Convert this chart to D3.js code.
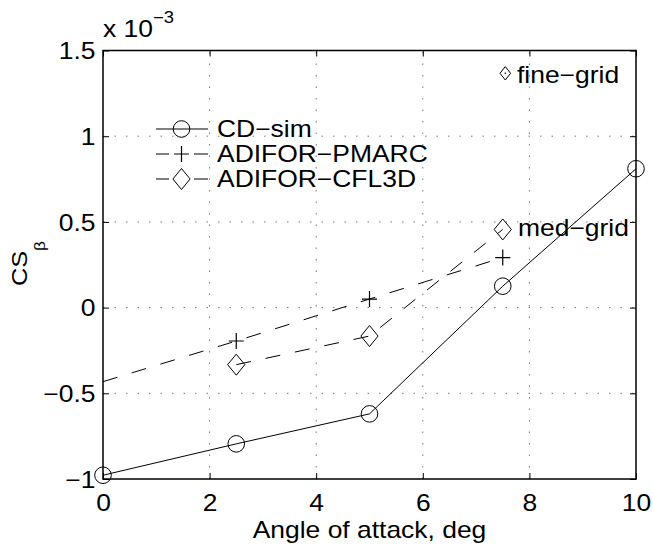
<!DOCTYPE html>
<html>
<head>
<meta charset="utf-8">
<script src="https://cdn.jsdelivr.net/npm/d3@7"></script>
<style>
  body { margin: 0; background: #fff; }
  svg { display: block; }
  text { font-family: "Liberation Sans", Arial, Helvetica, sans-serif; fill: #000; }
</style>
</head>
<body>
<svg id="chart" width="653" height="550"></svg>
<script>
// ---- data (values in units of 1e-3) ----
const cdAngles = [0, 2.5, 5, 7.5, 10];
const cdValues = [-0.978, -0.795, -0.620, 0.125, 0.810];

const pmarcAngles = [0, 2.5, 5, 7.5];
const pmarcValues = [-0.432, -0.195, 0.050, 0.292];
const pmarcMarkerAngles = [2.5, 5, 7.5];

const cfl3dAngles = [2.5, 5, 7.5];
const cfl3dValues = [-0.333, -0.166, 0.456];

const xTicks = [0, 2, 4, 6, 8, 10];
const yTicks = [-1, -0.5, 0, 0.5, 1, 1.5];
const yTickLabels = ["\u22121", "\u22120.5", "0", "0.5", "1", "1.5"];

const seriesNames = ["CD\u2212sim", "ADIFOR\u2212PMARC", "ADIFOR\u2212CFL3D"];
const noteLabels = ["fine\u2212grid", "med\u2212grid"];

// ---- layout ----
const svg = d3.select("#chart");
const L = 103, R = 636, T = 50.5, B = 479;
const x = d3.scaleLinear().domain([0, 10]).range([L, R]);
const y = d3.scaleLinear().domain([-1, 1.5]).range([B, T]);
const FS = 23, SX = 1.15;

// text helper: horizontally widened text placed at (tx, ty)
function addText(parent, tx, ty, str, size, anchor) {
  const g = parent.append("g").attr("transform", `translate(${tx},${ty}) scale(${SX},1)`);
  return g.append("text").attr("text-anchor", anchor || "start")
    .style("font-size", (size || FS) + "px").text(str);
}

// grid
const grid = svg.append("g").attr("stroke", "#777").attr("stroke-width", 1)
  .attr("stroke-dasharray", "1.5,10").attr("fill", "none");
xTicks.filter(t => t > 0 && t < 10).forEach(t => {
  grid.append("line").attr("x1", x(t)).attr("x2", x(t)).attr("y1", B).attr("y2", T);
});
yTicks.filter(t => t > -1 && t < 1.5).forEach(t => {
  grid.append("line").attr("x1", L).attr("x2", R).attr("y1", y(t)).attr("y2", y(t));
});

// axes (ticks inside, mirrored)
const tk = 6;
const axB = svg.append("g").attr("transform", `translate(0,${B})`)
  .call(d3.axisBottom(x).tickValues(xTicks).tickSize(-tk).tickPadding(16).tickFormat(d3.format("d")));
const axT = svg.append("g").attr("transform", `translate(0,${T})`)
  .call(d3.axisTop(x).tickValues(xTicks).tickSize(-tk).tickFormat(""));
const axL = svg.append("g").attr("transform", `translate(${L},0)`)
  .call(d3.axisLeft(y).tickValues(yTicks).tickSize(-tk).tickPadding(0)
    .tickFormat((d, i) => yTickLabels[i]));
const axR = svg.append("g").attr("transform", `translate(${R},0)`)
  .call(d3.axisRight(y).tickValues(yTicks).tickSize(-tk).tickFormat(""));
[axB, axT, axL, axR].forEach(a => {
  a.select(".domain").remove();
  a.selectAll(".tick line").attr("stroke", "#000").attr("stroke-width", 1);
  a.selectAll("text").style("font-size", FS + "px")
   .style("font-family", "'Liberation Sans', Arial, sans-serif").attr("fill", "#000")
   .attr("transform", `scale(${SX},1)`);
});
axB.selectAll("text").attr("dy", "0.71em");
axL.selectAll("text").attr("dy", "0.36em").attr("x", -7.5 / SX);

// frame
svg.append("rect").attr("x", L).attr("y", T).attr("width", R - L).attr("height", B - T)
  .attr("fill", "none").attr("stroke", "#000").attr("stroke-width", 1.5);

// marker helpers
function circleM(g, cx, cy) {
  g.append("circle").attr("cx", cx).attr("cy", cy).attr("r", 8.3)
    .attr("fill", "none").attr("stroke", "#000").attr("stroke-width", 1);
}
function plusM(g, cx, cy) {
  g.append("path").attr("d", `M${cx-7.5},${cy}H${cx+7.5}M${cx},${cy-8}V${cy+8}`)
    .attr("fill", "none").attr("stroke", "#000").attr("stroke-width", 1.2);
}
function diamondM(g, cx, cy, w, h) {
  w = w || 8.6; h = h || 10.5;
  g.append("path").attr("d", `M${cx},${cy-h}L${cx+w},${cy}L${cx},${cy+h}L${cx-w},${cy}Z`)
    .attr("fill", "none").attr("stroke", "#000").attr("stroke-width", 1);
}

const line = d3.line().x(d => x(d[0])).y(d => y(d[1]));
const plot = svg.append("g");

// CD-sim
plot.append("path").datum(d3.zip(cdAngles, cdValues)).attr("d", line)
  .attr("fill", "none").attr("stroke", "#000").attr("stroke-width", 1);
cdAngles.forEach((a, i) => circleM(plot, x(a), y(cdValues[i])));

// PMARC
plot.append("path").datum(d3.zip(pmarcAngles, pmarcValues)).attr("d", line)
  .attr("fill", "none").attr("stroke", "#000").attr("stroke-width", 1)
  .attr("stroke-dasharray", "15,15");
pmarcAngles.forEach((a, i) => {
  if (pmarcMarkerAngles.includes(a)) plusM(plot, x(a), y(pmarcValues[i]));
});

// CFL3D
plot.append("path").datum(d3.zip(cfl3dAngles, cfl3dValues)).attr("d", line)
  .attr("fill", "none").attr("stroke", "#000").attr("stroke-width", 1)
  .attr("stroke-dasharray", "15,15");
cfl3dAngles.forEach((a, i) => diamondM(plot, x(a), y(cfl3dValues[i])));

// legend
const lg = svg.append("g");
const legRows = [129, 154, 179];
const lx0 = 156, lx1 = 208, lxm = 181.5;
lg.append("line").attr("x1", lx0).attr("x2", lx1).attr("y1", legRows[0]).attr("y2", legRows[0])
  .attr("stroke", "#000").attr("stroke-width", 1);
circleM(lg, lxm, legRows[0]);
[1, 2].forEach(r => {
  lg.append("line").attr("x1", lx0).attr("x2", lx0 + 13).attr("y1", legRows[r]).attr("y2", legRows[r])
    .attr("stroke", "#000").attr("stroke-width", 1);
  lg.append("line").attr("x1", lx1 - 14).attr("x2", lx1).attr("y1", legRows[r]).attr("y2", legRows[r])
    .attr("stroke", "#000").attr("stroke-width", 1);
});
plusM(lg, lxm, legRows[1]);
diamondM(lg, lxm, legRows[2]);
seriesNames.forEach((n, i) => {
  addText(lg, 217, legRows[i], n).attr("dy", "0.36em");
});

// annotations
diamondM(svg, 505.3, 73.3, 5.3, 6.7);
svg.append("circle").attr("cx", 505.3).attr("cy", 73.3).attr("r", 0.8).attr("fill", "#000");
addText(svg, 517, 83, noteLabels[0]);
addText(svg, 518, 236, noteLabels[1]);

// exponent label
const exg = svg.append("g").attr("transform", `translate(103,37) scale(${SX},1)`);
const ex = exg.append("text").style("font-size", FS + "px");
ex.append("tspan").text("x 10");
ex.append("tspan").attr("dy", -14).style("font-size", "16px").text("\u22123");

// axis labels
addText(svg, (L + R) / 2, 538, "Angle of attack, deg", FS, "middle");
const yl = svg.append("g").attr("transform", `translate(27,286) rotate(-90) scale(${SX},1)`)
  .append("text").style("font-size", "22px");
yl.append("tspan").text("CS");
yl.append("tspan").attr("dy", 18).style("font-size", "15px").text("\u03b2");
</script>
</body>
</html>
